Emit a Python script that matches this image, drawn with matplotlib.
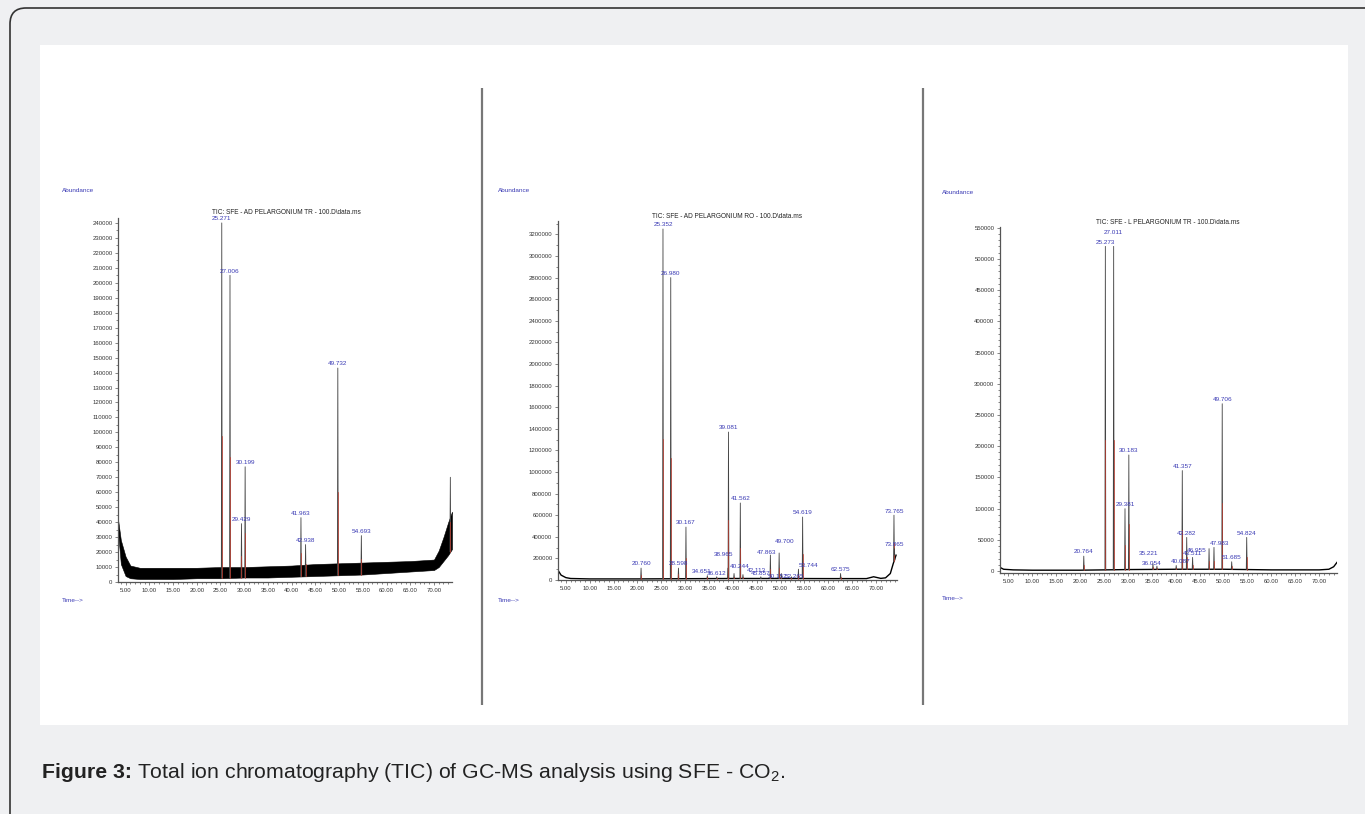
import numpy as np
import matplotlib.pyplot as plt
from matplotlib.patches import FancyBboxPatch, Rectangle
from matplotlib.ticker import MultipleLocator, FormatStrFormatter

plt.rcParams['font.family'] = ['Liberation Sans', 'DejaVu Sans']
plt.rcParams['mathtext.fontset'] = 'custom'
plt.rcParams['mathtext.rm'] = 'Liberation Sans'

# ---- data ----
titles = ["TIC: SFE - AD PELARGONIUM TR - 100.D\\data.ms",
          "TIC: SFE - AD PELARGONIUM RO - 100.D\\data.ms",
          "TIC: SFE - L PELARGONIUM TR - 100.D\\data.ms"]

# panel 1 (AD TR)
p1_times = [25.271, 27.006, 29.429, 30.199, 41.963, 42.938, 49.732, 54.693, 73.45]
p1_heights = [240000, 205000, 39000, 77000, 43000, 25000, 143000, 31000, 70000]
p1_labeled = [True, True, True, True, True, True, True, True, False]
p1_base_t = [3.4, 4.0, 5.0, 6.0, 8.0, 10.0, 15.0, 20.0, 25.0, 30.0, 35.0, 40.0,
             45.0, 50.0, 55.0, 60.0, 65.0, 70.0, 71.0, 72.0, 73.0, 73.8]
p1_base_lo = [34000, 12000, 4000, 2500, 2000, 2000, 2000, 2500, 2500, 3000, 3000, 3500,
              4000, 4500, 5000, 6000, 7000, 8000, 10000, 14000, 18000, 22000]
p1_base_hi = [42000, 28000, 17000, 11000, 9500, 9500, 9500, 9500, 10000, 10000, 10500, 11000,
              12000, 12500, 13000, 13500, 14000, 15000, 21000, 30000, 40000, 47000]

# panel 2 (AD RO)
p2_times = [20.760, 25.352, 26.980, 28.598, 30.167, 34.651, 36.612, 38.965, 39.081,
            40.244, 41.562, 42.113, 45.857, 47.863, 49.700, 50.152, 52.265, 53.744,
            54.619, 62.575, 73.765, 73.865]
p2_heights = [110000, 3250000, 2800000, 110000, 490000, 40000, 30000, 110000, 1370000,
              60000, 713000, 50000, 30000, 231000, 250000, 60000, 30000, 100000,
              583000, 60000, 600000, 290000]
p2_base_t = [3.35, 4.0, 5.0, 6.0, 10.0, 20.0, 30.0, 40.0, 50.0, 60.0, 68.0, 69.5, 71.0,
             72.0, 73.0, 73.6, 74.2]
p2_base = [90000, 45000, 22000, 14000, 10000, 10000, 12000, 14000, 14000, 13000, 13000,
           30000, 15000, 20000, 60000, 150000, 230000]

# panel 3 (L TR)
p3_times = [20.764, 25.273, 27.011, 29.381, 30.183, 35.221, 36.054, 40.087, 41.357,
            42.282, 43.511, 46.955, 47.983, 49.706, 51.685, 54.824]
p3_heights = [24000, 520000, 520000, 100000, 186000, 12000, 8000, 9000, 161000,
              54000, 22000, 36000, 38000, 268000, 15000, 54000]
p3_base_t = [3.25, 4.0, 6.0, 10.0, 20.0, 30.0, 40.0, 50.0, 60.0, 70.0, 72.0, 73.0, 73.7]
p3_base = [6000, 3000, 2000, 1500, 1500, 2500, 3000, 3000, 2000, 2000, 3000, 7000, 14000]

W, H = 1365, 814
fig = plt.figure(figsize=(W / 100, H / 100), dpi=100)
fig.patch.set_facecolor('#eff0f2')


def px_axes(x0, y0, x1, y1, **kw):
    return fig.add_axes([x0 / W, 1 - y1 / H, (x1 - x0) / W, (y1 - y0) / H], **kw)


# page frame and white image area
bg = px_axes(0, 0, W, H)
bg.set_xlim(0, W)
bg.set_ylim(H, 0)
bg.axis('off')
bg.add_patch(FancyBboxPatch((10, 8), W + 40, H + 20, boxstyle="round,pad=0,rounding_size=16",
                            fc='#eff0f2', ec='#333333', lw=1.2))
bg.add_patch(Rectangle((40, 45), 1308, 680, fc='white', ec='none'))
for xd in (482, 923):
    bg.plot([xd, xd], [88, 705], color='#777777', lw=1.6, solid_capstyle='butt')

blue = '#3a3ab4'
small = 4.3


def draw_panel(box, xlim, ylim, ystep, ystep_minor, times, heights, base_t, base_lo, base_hi,
               title, title_xy, abund_xy, time_xy, labeled=None, label_off=None):
    ax = px_axes(*box)
    ax.set_facecolor('none')
    ax.set_xlim(*xlim)
    ax.set_ylim(*ylim)
    for s in ('top', 'right'):
        ax.spines[s].set_visible(False)
    for s in ('left', 'bottom'):
        ax.spines[s].set_color('#555555')
        ax.spines[s].set_linewidth(0.9)
    ax.yaxis.set_major_locator(MultipleLocator(ystep))
    ax.yaxis.set_minor_locator(MultipleLocator(ystep_minor))
    ax.yaxis.set_major_formatter(FormatStrFormatter('%d'))
    ax.xaxis.set_minor_locator(MultipleLocator(1))
    ax.xaxis.set_major_formatter(FormatStrFormatter('%.2f'))
    ax.tick_params(which='both', direction='out', color='#555555', width=0.5,
                   labelsize=small, labelcolor='#333333', pad=1.5)
    ax.tick_params(which='major', length=2.5)
    ax.tick_params(which='minor', length=1.5)
    ax.set_xticks([t for t in range(5, 75, 5) if t < xlim[1]])

    # baseline
    if base_hi is None:
        ax.plot(base_t, base_lo, color='black', lw=1.0)
    else:
        ax.fill_between(base_t, base_lo, base_hi, color='black', lw=0.4)

    for i, (t, h) in enumerate(zip(times, heights)):
        b = np.interp(t, base_t, base_lo)
        ax.plot([t - 0.09, t, t + 0.09], [b, h, b], color='#444444', lw=0.6)
        ax.plot([t, t], [b, b + 0.4 * (h - b)], color='#c0392b', lw=0.5)
        if labeled is not None and not labeled[i]:
            continue
        dx, dy = 0, 1.2
        if label_off and t in label_off:
            dx += label_off[t][0]
            dy += label_off[t][1]
        ax.annotate(f"{t:.3f}", (t, h), xytext=(dx, dy), textcoords='offset points',
                    ha='center', va='bottom', fontsize=small + 0.3, color=blue)

    fig.text(title_xy[0] / W, 1 - title_xy[1] / H, title, fontsize=small + 0.4,
             ha='center', va='center', color='#222222')
    fig.text(abund_xy[0] / W, 1 - abund_xy[1] / H, "Abundance", fontsize=small + 0.3,
             ha='left', va='center', color=blue)
    fig.text(time_xy[0] / W, 1 - time_xy[1] / H, "Time-->", fontsize=small + 0.3,
             ha='left', va='center', color=blue)
    return ax


draw_panel((118, 218, 452, 582), (3.4, 73.8), (0, 243300), 10000, 5000,
           p1_times, p1_heights, p1_base_t, p1_base_lo, p1_base_hi,
           titles[0], (286, 213), (62, 191), (62, 600), labeled=p1_labeled)

draw_panel((558, 221, 897, 580), (3.35, 74.4), (0, 3324000), 200000, 100000,
           p2_times, p2_heights, p2_base_t, p2_base, None,
           titles[1], (727, 216), (498, 191), (498, 601),
           label_off={34.651: (-4, 0), 36.612: (0, -1), 38.965: (-3, 7), 40.244: (4, 2),
                      42.113: (10, 0), 45.857: (0, -1), 47.863: (-3, -1), 49.700: (4, 5),
                      50.152: (-3, -5), 52.265: (2, -3), 53.744: (7, 0)})

draw_panel((1000, 227, 1337, 573), (3.25, 73.7), (-3000, 551000), 50000, 10000,
           p3_times, p3_heights, p3_base_t, p3_base, None,
           titles[2], (1168, 222), (942, 192), (942, 599),
           label_off={27.011: (0, 7), 35.221: (-3, 4), 36.054: (-4, -1), 40.087: (3, 0),
                      46.955: (-9, -4), 47.983: (4, 0)})

# caption
renderer = fig.canvas.get_renderer()
t1 = fig.text(42 / W, 1 - 772 / H, "Figure 3:", fontsize=15.3, fontweight='bold',
              ha='left', va='center', color='#222222')
bb = t1.get_window_extent(renderer)
fig.text((bb.x1 + 5) / W, 1 - 772 / H,
         r"Total ion chromatography (TIC) of GC-MS analysis using SFE - CO$_\mathregular{2}$.",
         fontsize=15.3, ha='left', va='center', color='#222222')

fig.savefig('out.png', dpi=100, facecolor=fig.get_facecolor())
